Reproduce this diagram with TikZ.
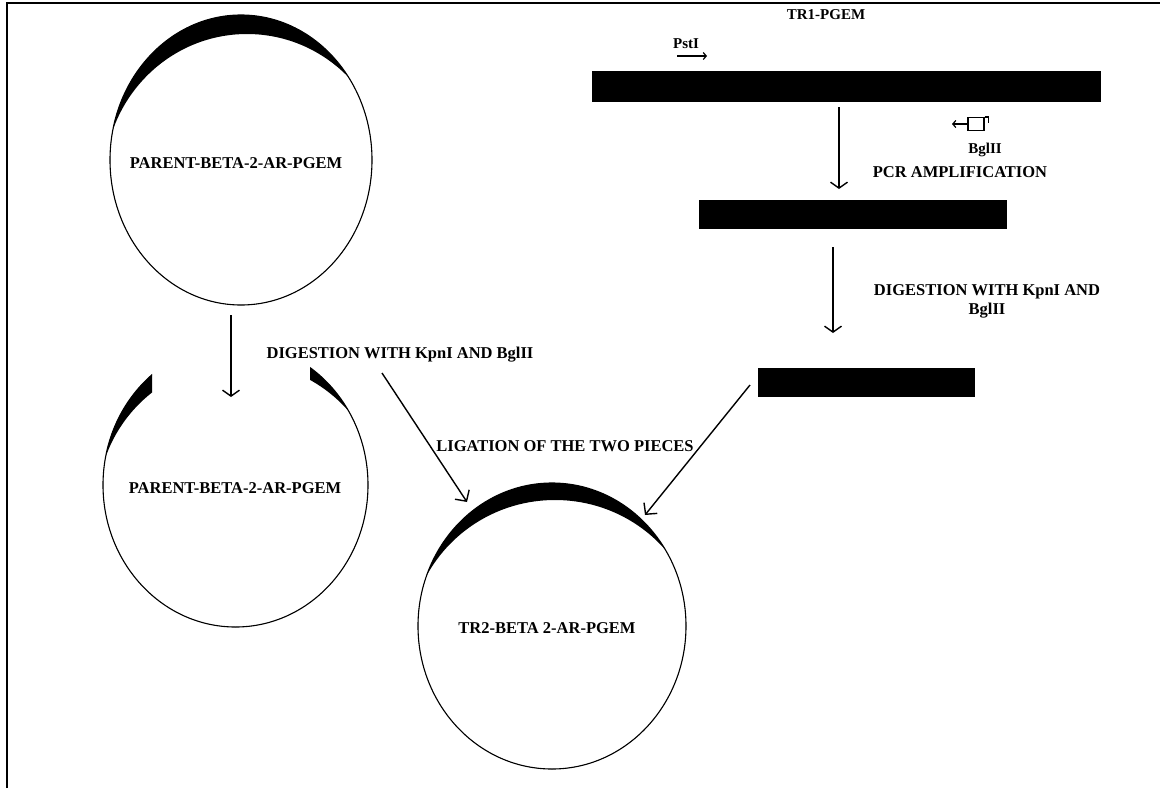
\documentclass[tikz,border=0pt]{standalone}
\usepackage{fontspec}
\setmainfont{Liberation Serif}
\usetikzlibrary{arrows.meta,calc}
\begin{document}
\begin{tikzpicture}[x=1pt,y=-1pt,
  lbl/.style={font=\bfseries\fontsize{16.5}{19}\selectfont, inner sep=0pt, align=center},
  smalllbl/.style={font=\bfseries\fontsize{15}{17}\selectfont, inner sep=0pt},
  barbox/.style={fill=black, draw=none, inner sep=0pt, outer sep=0pt},
  outline/.style={line width=1.1pt},
  conn/.style={line width=1.4pt, -{Straight Barb[length=6pt,width=17pt,line width=1.4pt]}},
  diag/.style={line width=1.4pt, -{Straight Barb[length=8pt,width=17pt,line width=1.4pt]}},
  tiny/.style={line width=1.3pt, -{Straight Barb[length=3pt,width=7pt,line width=1.2pt]}}
]
\useasboundingbox (0,0) rectangle (1160,788);
\fill[white] (0,0) rectangle (1160,788);

% frame
\coordinate (fbl) at (7,788);
\coordinate (ftl) at (7,3);
\coordinate (ftr) at (1160,3);
\draw[line width=1.4pt] (fbl) -- (ftl) -- (ftr);

% ---------- circle 1 : PARENT ----------
\coordinate (c1) at (241,160);
\draw[outline] (c1) ellipse [x radius=131, y radius=145];
\begin{scope}
  \clip (c1) ellipse [x radius=131, y radius=145];
  \fill[even odd rule] (c1) ellipse [x radius=131, y radius=145]
     ($(c1)+(6,19)$) ellipse [x radius=142.5, y radius=145];
\end{scope}
\node[lbl] (t1) at (236,163) {PARENT-BETA-2-AR-PGEM};

% ---------- circle 2 : cut PARENT ----------
\coordinate (c2) at (235.5,485);
\begin{scope}
  \clip (0,0) rectangle (152,788) (310,0) rectangle (1160,788) (0,400) rectangle (1160,788);
  \draw[outline] (c2) ellipse [x radius=132.5, y radius=142];
  \begin{scope}
    \clip (c2) ellipse [x radius=132.5, y radius=142];
    \fill[even odd rule] (c2) ellipse [x radius=132.5, y radius=142]
       ($(c2)+(5,19)$) ellipse [x radius=142.9, y radius=142];
  \end{scope}
\end{scope}
\node[lbl] (t2) at (235,488) {PARENT-BETA-2-AR-PGEM};

% ---------- circle 3 : TR2 ----------
\coordinate (c3) at (552,626);
\draw[outline] (c3) ellipse [x radius=134, y radius=143];
\begin{scope}
  \clip (c3) ellipse [x radius=134, y radius=143];
  \fill[even odd rule] (c3) ellipse [x radius=134, y radius=143]
     ($(c3)+(3,17)$) ellipse [x radius=145.5, y radius=143];
\end{scope}
\node[lbl] (t3) at (547,628) {TR2-BETA 2-AR-PGEM};

% ---------- bars ----------
\node[barbox, minimum width=509pt, minimum height=31pt] (bar1) at (846.5,86.5) {};
\node[barbox, minimum width=308pt, minimum height=29pt] (bar2) at (853,214.5) {};
\node[barbox, minimum width=217pt, minimum height=29pt] (bar3) at (866.5,382.5) {};

% ---------- labels ----------
\node[smalllbl] (tr1) at (826,15) {TR1-PGEM};
\node[smalllbl] (pst) at (686,44) {PstI};
\node[smalllbl] (bgl) at (985,150) {BglII};
\node[lbl] (pcr) at (960,172) {PCR AMPLIFICATION};
\node[lbl] (dig2) at (987,301) {DIGESTION WITH KpnI AND\\BglII};
\node[lbl] (dig1) at (400,355) {DIGESTION WITH KpnI AND BglII};
\node[lbl] (lig) at (565,446) {LIGATION OF THE TWO PIECES};

% ---------- primers ----------
\coordinate (ps1) at (677,56);
\coordinate (ps2) at (707,56);
\draw[tiny] (ps1) -- (ps2);
\node[draw, line width=1.3pt, minimum width=16pt, minimum height=13pt, inner sep=0pt] (pbox) at (976,124) {};
\coordinate (pbl) at (952,124);
\draw[tiny] (pbox.west) -- (pbl);
\draw[line width=1.3pt] (pbox.north east) -- ++(4,0) -- ++(0,6);

% ---------- connectors ----------
\coordinate (a1s) at (231,315);
\coordinate (a1e) at (231,397);
\draw[conn] (a1s) -- (a1e);

\coordinate (a2s) at (839,107);
\coordinate (a2e) at (839,189);
\draw[conn] (a2s) -- (a2e);

\coordinate (a3s) at (833,247);
\coordinate (a3e) at (833,333);
\draw[conn] (a3s) -- (a3e);

\coordinate (a4s) at (382,373);
\coordinate (a4e) at (467,502);
\draw[diag] (a4s) -- (a4e);

\coordinate (a5s) at (750,385);
\coordinate (a5e) at (645,515);
\draw[diag] (a5s) -- (a5e);
\end{tikzpicture}
\end{document}
